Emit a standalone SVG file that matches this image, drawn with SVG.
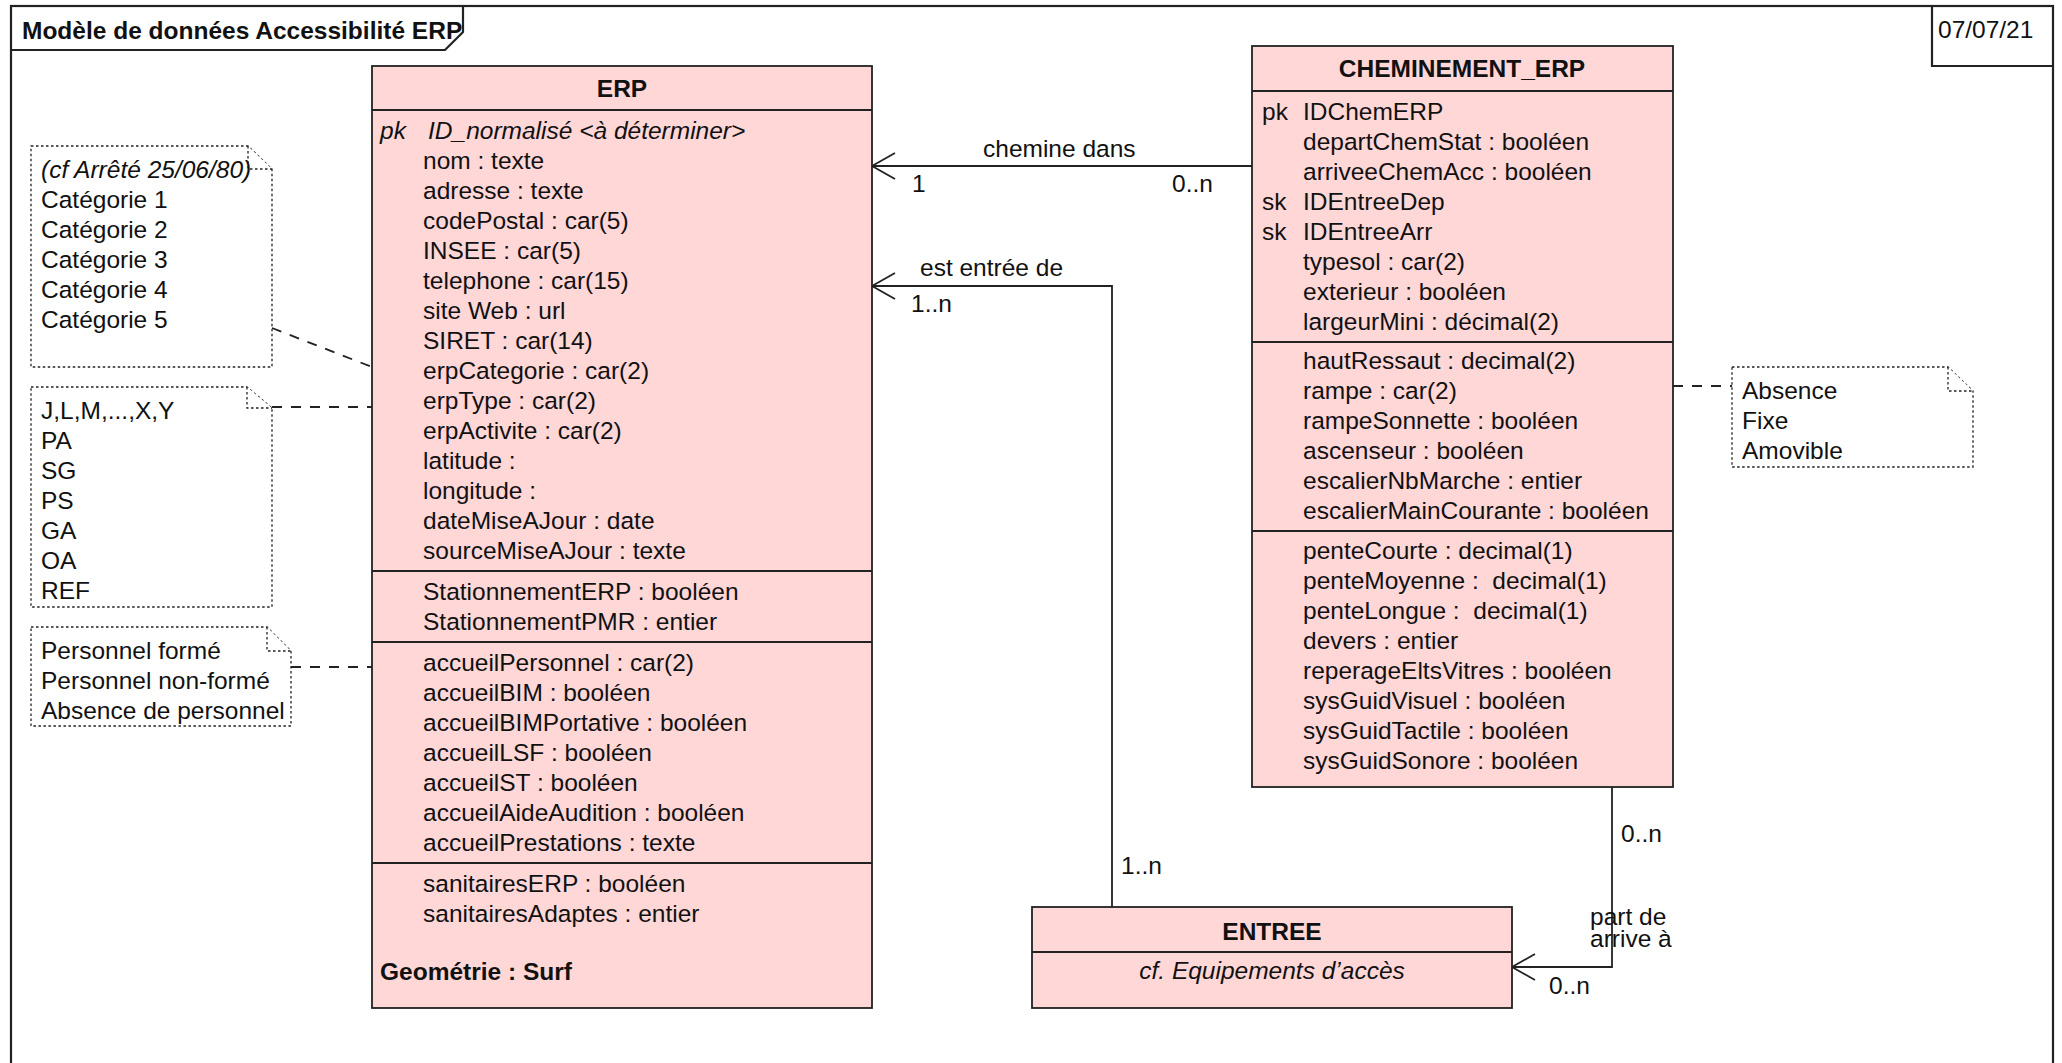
<svg xmlns="http://www.w3.org/2000/svg" width="2062" height="1063" viewBox="0 0 2062 1063">
<style>
.t{font-family:"Liberation Sans",Arial,sans-serif;font-size:24.5px;fill:#111;white-space:pre}
.b{font-weight:bold}
.i{font-style:italic}
.m{text-anchor:middle}
.box{fill:#FFD7D7;stroke:#222;stroke-width:1.8}
.sep{stroke:#222;stroke-width:1.8}
.note{fill:#fff;stroke:#222;stroke-width:1.3;stroke-dasharray:2.5 2.5}
.line{fill:none;stroke:#222;stroke-width:1.8}
.dash{fill:none;stroke:#222;stroke-width:1.8;stroke-dasharray:10 9}
.frame{fill:none;stroke:#222;stroke-width:2.2}
</style>
<defs>
<marker id="arr" viewBox="-2 -16 30 32" refX="0" refY="0" markerWidth="30" markerHeight="32" markerUnits="userSpaceOnUse" orient="auto">
<path d="M23,-13 L0,0 L23,13" fill="none" stroke="#222" stroke-width="1.8"/>
</marker>
</defs>
<rect width="2062" height="1063" fill="#fff"/>
<g id="frame">
<rect class="frame" x="11" y="6" width="2042" height="1070"/>
<polyline class="frame" points="11,50 445,50 463,32 463,6"/>
<text class="t b" x="22" y="39">Modèle de données Accessibilité ERP</text>
<polyline class="frame" points="1932,6 1932,66 2053,66"/>
<text class="t" x="1938" y="38">07/07/21</text>
</g>
<g id="connectors">
<path class="line" d="M872,166 H1252" marker-start="url(#arr)"/>
<path class="line" d="M872,286 H1112 V907" marker-start="url(#arr)"/>
<path class="line" d="M1512,967 H1612 V787" marker-start="url(#arr)"/>
<path class="dash" d="M272,328 L372,367"/>
<path class="dash" d="M272,407 H372"/>
<path class="dash" d="M291,667 H372"/>
<path class="dash" d="M1673,386 H1732"/>
<text class="t" x="983" y="157">chemine dans</text>
<text class="t" x="912" y="192">1</text>
<text class="t" x="1172" y="192">0..n</text>
<text class="t" x="920" y="276">est entrée de</text>
<text class="t" x="911" y="312">1..n</text>
<text class="t" x="1121" y="874">1..n</text>
<text class="t" x="1621" y="842">0..n</text>
<text class="t" x="1590" y="925">part de</text>
<text class="t" x="1590" y="947">arrive à</text>
<text class="t" x="1549" y="994">0..n</text>
</g>
<g id="note-categorie">
<path class="note" d="M31,146 H248 L272,169 V367 H31 Z"/>
<path class="note" d="M248,146 V169 H272"/>
<text class="t i" x="41" y="178">(cf Arrêté 25/06/80)</text>
<text class="t" x="41" y="208">Catégorie 1</text>
<text class="t" x="41" y="238">Catégorie 2</text>
<text class="t" x="41" y="268">Catégorie 3</text>
<text class="t" x="41" y="298">Catégorie 4</text>
<text class="t" x="41" y="328">Catégorie 5</text>
</g>
<g id="note-type">
<path class="note" d="M31,387 H247 L272,408 V607 H31 Z"/>
<path class="note" d="M247,387 V408 H272"/>
<text class="t" x="41" y="419">J,L,M,...,X,Y</text>
<text class="t" x="41" y="449">PA</text>
<text class="t" x="41" y="479">SG</text>
<text class="t" x="41" y="509">PS</text>
<text class="t" x="41" y="539">GA</text>
<text class="t" x="41" y="569">OA</text>
<text class="t" x="41" y="599">REF</text>
</g>
<g id="note-personnel">
<path class="note" d="M31,627 H267 L291,651 V726 H31 Z"/>
<path class="note" d="M267,627 V651 H291"/>
<text class="t" x="41" y="659">Personnel formé</text>
<text class="t" x="41" y="689">Personnel non-formé</text>
<text class="t" x="41" y="719">Absence de personnel</text>
</g>
<g id="note-rampe">
<path class="note" d="M1732,367 H1948 L1973,391 V467 H1732 Z"/>
<path class="note" d="M1948,367 V391 H1973"/>
<text class="t" x="1742" y="399">Absence</text>
<text class="t" x="1742" y="429">Fixe</text>
<text class="t" x="1742" y="459">Amovible</text>
</g>
<g id="erp">
<rect class="box" x="372" y="66" width="500" height="942"/>
<line class="sep" x1="372" y1="110" x2="872" y2="110"/>
<line class="sep" x1="372" y1="571" x2="872" y2="571"/>
<line class="sep" x1="372" y1="642" x2="872" y2="642"/>
<line class="sep" x1="372" y1="863" x2="872" y2="863"/>
<text class="t b m" x="622" y="97">ERP</text>
<text class="t i" x="380" y="139">pk</text>
<text class="t i" x="428" y="139">ID_normalisé &lt;à déterminer&gt;</text>
<text class="t" x="423" y="169">nom : texte</text>
<text class="t" x="423" y="199">adresse : texte</text>
<text class="t" x="423" y="229">codePostal : car(5)</text>
<text class="t" x="423" y="259">INSEE : car(5)</text>
<text class="t" x="423" y="289">telephone : car(15)</text>
<text class="t" x="423" y="319">site Web : url</text>
<text class="t" x="423" y="349">SIRET : car(14)</text>
<text class="t" x="423" y="379">erpCategorie : car(2)</text>
<text class="t" x="423" y="409">erpType : car(2)</text>
<text class="t" x="423" y="439">erpActivite : car(2)</text>
<text class="t" x="423" y="469">latitude :</text>
<text class="t" x="423" y="499">longitude :</text>
<text class="t" x="423" y="529">dateMiseAJour : date</text>
<text class="t" x="423" y="559">sourceMiseAJour : texte</text>
<text class="t" x="423" y="600">StationnementERP : booléen</text>
<text class="t" x="423" y="630">StationnementPMR : entier</text>
<text class="t" x="423" y="671">accueilPersonnel : car(2)</text>
<text class="t" x="423" y="701">accueilBIM : booléen</text>
<text class="t" x="423" y="731">accueilBIMPortative : booléen</text>
<text class="t" x="423" y="761">accueilLSF : booléen</text>
<text class="t" x="423" y="791">accueilST : booléen</text>
<text class="t" x="423" y="821">accueilAideAudition : booléen</text>
<text class="t" x="423" y="851">accueilPrestations : texte</text>
<text class="t" x="423" y="892">sanitairesERP : booléen</text>
<text class="t" x="423" y="922">sanitairesAdaptes : entier</text>
<text class="t b" x="380" y="980">Geométrie : Surf</text>
</g>
<g id="cheminement">
<rect class="box" x="1252" y="46" width="421" height="741"/>
<line class="sep" x1="1252" y1="91" x2="1673" y2="91"/>
<line class="sep" x1="1252" y1="342" x2="1673" y2="342"/>
<line class="sep" x1="1252" y1="531" x2="1673" y2="531"/>
<text class="t b m" x="1462" y="77">CHEMINEMENT_ERP</text>
<text class="t" x="1262" y="120">pk</text>
<text class="t" x="1303" y="120">IDChemERP</text>
<text class="t" x="1303" y="150">departChemStat : booléen</text>
<text class="t" x="1303" y="180">arriveeChemAcc : booléen</text>
<text class="t" x="1262" y="210">sk</text>
<text class="t" x="1303" y="210">IDEntreeDep</text>
<text class="t" x="1262" y="240">sk</text>
<text class="t" x="1303" y="240">IDEntreeArr</text>
<text class="t" x="1303" y="270">typesol : car(2)</text>
<text class="t" x="1303" y="300">exterieur : booléen</text>
<text class="t" x="1303" y="330">largeurMini : décimal(2)</text>
<text class="t" x="1303" y="369">hautRessaut : decimal(2)</text>
<text class="t" x="1303" y="399">rampe : car(2)</text>
<text class="t" x="1303" y="429">rampeSonnette : booléen</text>
<text class="t" x="1303" y="459">ascenseur : booléen</text>
<text class="t" x="1303" y="489">escalierNbMarche : entier</text>
<text class="t" x="1303" y="519">escalierMainCourante : booléen</text>
<text class="t" x="1303" y="559">penteCourte : decimal(1)</text>
<text class="t" x="1303" y="589">penteMoyenne :  decimal(1)</text>
<text class="t" x="1303" y="619">penteLongue :  decimal(1)</text>
<text class="t" x="1303" y="649">devers : entier</text>
<text class="t" x="1303" y="679">reperageEltsVitres : booléen</text>
<text class="t" x="1303" y="709">sysGuidVisuel : booléen</text>
<text class="t" x="1303" y="739">sysGuidTactile : booléen</text>
<text class="t" x="1303" y="769">sysGuidSonore : booléen</text>
</g>
<g id="entree">
<rect class="box" x="1032" y="907" width="480" height="101"/>
<line class="sep" x1="1032" y1="952" x2="1512" y2="952"/>
<text class="t b m" x="1272" y="940">ENTREE</text>
<text class="t i m" x="1272" y="979">cf. Equipements d’accès</text>
</g>
</svg>
